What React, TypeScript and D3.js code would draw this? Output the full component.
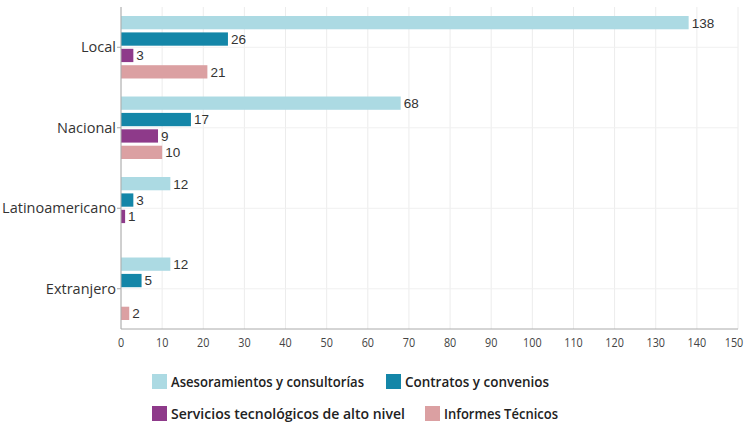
import React from "react";
import * as d3 from "d3";

const categories = ["Local", "Nacional", "Latinoamericano", "Extranjero"];
const seriesNames = [
  "Asesoramientos y consultorías",
  "Contratos y convenios",
  "Servicios tecnológicos de alto nivel",
  "Informes Técnicos",
];
const asesoramientos = [138, 68, 12, 12];
const contratos = [26, 17, 3, 5];
const servicios = [3, 9, 1, 0];
const informes = [21, 10, 0, 2];
const xTicks = [0, 10, 20, 30, 40, 50, 60, 70, 80, 90, 100, 110, 120, 130, 140, 150];
const colors = ["#acdae3", "#1486a8", "#8e3a8a", "#dba0a2"];

const W = 744;
const H = 422;
const seriesValues = [asesoramientos, contratos, servicios, informes];

export default function App() {
  const x = d3.scaleLinear().domain([0, 150]).range([121, 738]);
  const y0 = d3
    .scaleBand<string>()
    .domain(categories)
    .range([7, 329])
    .paddingInner(0.185)
    .paddingOuter(0.0925);
  const y1 = d3
    .scaleBand<string>()
    .domain(seriesNames)
    .range([0, y0.bandwidth()])
    .paddingInner(0.19)
    .paddingOuter(0.095);

  const legendItems = [
    { sx: 152, sy: 374, tx: 171, tw: 193 },
    { sx: 386, sy: 374, tx: 405, tw: 144 },
    { sx: 152, sy: 406, tx: 171, tw: 234 },
    { sx: 425, sy: 406, tx: 444, tw: 114 },
  ];

  return (
    <svg
      width={W}
      height={H}
      style={{ position: "absolute", left: 0, top: 0, background: "#fff" }}
    >
      {xTicks.map((t) => (
        <line
          key={"g" + t}
          x1={x(t)}
          x2={x(t)}
          y1={7}
          y2={329}
          stroke="#ececec"
          strokeWidth={1}
        />
      ))}
      {categories.map((c) => (
        <line
          key={"h" + c}
          x1={121}
          x2={738}
          y1={(y0(c) as number) + y0.bandwidth() / 2}
          y2={(y0(c) as number) + y0.bandwidth() / 2}
          stroke="#f0f0f0"
          strokeWidth={1}
        />
      ))}
      {categories.map((c, ci) =>
        seriesNames.map((s, si) => {
          const v = seriesValues[si][ci];
          if (!v) return null;
          const yy = (y0(c) as number) + (y1(s) as number);
          return (
            <g key={c + s}>
              <rect
                x={x(0)}
                y={yy}
                width={x(v) - x(0)}
                height={y1.bandwidth()}
                fill={colors[si]}
              />
              <text
                x={x(v) + 3}
                y={yy + y1.bandwidth() / 2}
                dy="0.36em"
                fontFamily="'Liberation Sans', Arial, sans-serif"
                fontSize={13.5}
                fill="#333"
              >
                {v}
              </text>
            </g>
          );
        })
      )}
      <line x1={121} x2={121} y1={7} y2={329} stroke="#aaa" strokeWidth={1} />
      <line x1={121} x2={738} y1={329} y2={329} stroke="#aaa" strokeWidth={1} />
      {categories.map((c) => {
        const cy = (y0(c) as number) + y0.bandwidth() / 2;
        return (
          <g key={"yl" + c}>
            <line x1={117} x2={121} y1={cy} y2={cy} stroke="#aaa" />
            <text
              x={116}
              y={cy}
              dy="0.35em"
              textAnchor="end"
              fontFamily="'Open Sans', sans-serif"
              fontSize={14.5}
              fill="#333"
            >
              {c}
            </text>
          </g>
        );
      })}
      {xTicks.map((t) => (
        <text
          key={"xt" + t}
          transform={`translate(${t === 150 ? x(t) - 4 : x(t)},346.5) scale(0.8,1)`}
          textAnchor="middle"
          fontFamily="'Open Sans', sans-serif"
          fontSize={13.5}
          fill="#444"
        >
          {t}
        </text>
      ))}
      {seriesNames.map((s, i) => {
        const L = legendItems[i];
        return (
          <g key={"lg" + s}>
            <rect x={L.sx} y={L.sy} width={15} height={15} fill={colors[i]} />
            <text
              x={L.tx}
              y={L.sy + 13}
              textLength={L.tw}
              lengthAdjust="spacingAndGlyphs"
              fontFamily="'Open Sans', sans-serif"
              fontWeight={600}
              fontSize={14.5}
              fill="#222"
            >
              {s}
            </text>
          </g>
        );
      })}
    </svg>
  );
}
